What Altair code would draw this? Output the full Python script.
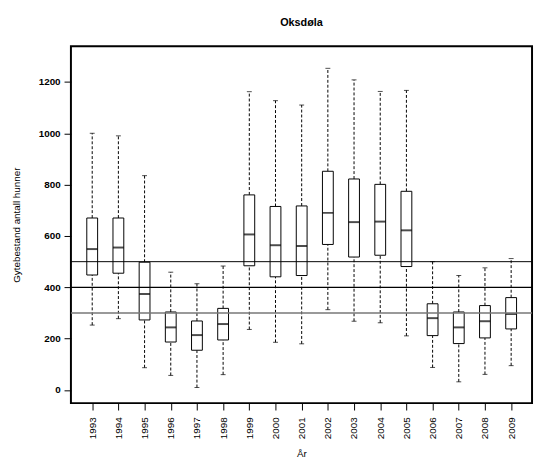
import altair as alt
import pandas as pd

years = list(range(1993, 2010))
whisker_low = [253, 278, 87, 57, 10, 60, 236, 186, 180, 313, 268, 262, 211, 88, 32, 61, 95]
q1 = [448, 455, 273, 187, 155, 195, 484, 441, 446, 567, 518, 525, 481, 212, 181, 203, 238]
median = [549, 555, 374, 244, 214, 257, 606, 564, 561, 690, 654, 656, 622, 280, 244, 268, 296]
q3 = [670, 670, 498, 304, 269, 318, 760, 715, 717, 852, 822, 801, 774, 336, 304, 329, 360]
whisker_high = [1000, 990, 835, 459, 414, 483, 1162, 1127, 1110, 1253, 1208, 1163, 1167, 500, 446, 476, 512]
ref_levels = [500, 400, 300]

df = pd.DataFrame({
    "year": years, "lo": whisker_low, "q1": q1, "med": median, "q3": q3, "hi": whisker_high,
})
ref = pd.DataFrame({"level": ref_levels, "kind": ["a", "b", "c"]})

FONT = "Liberation Sans"
xscale = alt.Scale(domain=[1992.375, 2009.61], nice=False, zero=False)
yscale = alt.Scale(domain=[-51, 1339], nice=False, zero=False)

xaxis = alt.Axis(values=years, format="d", labelAngle=270, labelAlign="right",
                 labelBaseline="middle", labelFontSize=10, labelFont=FONT,
                 labelColor="black", tickColor="black", tickSize=7, tickWidth=1,
                 labelPadding=7, domain=False, grid=False, title="År",
                 titleFont=FONT, titleFontSize=10, titleFontWeight="normal",
                 titleColor="black", titlePadding=10, labelOverlap=False)
yaxis = alt.Axis(values=[0, 200, 400, 600, 800, 1000, 1200], format="d", labelFontSize=10,
                 labelFontWeight="bold", labelFont=FONT, labelColor="black",
                 tickColor="black", tickSize=7, tickWidth=1, labelPadding=4,
                 domain=False, grid=False, title="Gytebestand antall hunner",
                 titleFont=FONT, titleFontSize=10, titleFontWeight="normal",
                 titleColor="black", titlePadding=17)

base = alt.Chart(df)
x = alt.X("year:Q", scale=xscale, axis=xaxis)

whisk_up = base.mark_rule(color="black", strokeWidth=1, strokeDash=[3, 2]).encode(
    x=x, y=alt.Y("q3:Q", scale=yscale, axis=yaxis), y2="hi:Q")
whisk_dn = base.mark_rule(color="black", strokeWidth=1, strokeDash=[3, 2]).encode(
    x=x, y=alt.Y("lo:Q", scale=yscale), y2="q1:Q")
cap_hi = base.mark_tick(color="black", orient="horizontal", size=5, thickness=1).encode(
    x=x, y=alt.Y("hi:Q", scale=yscale))
cap_lo = base.mark_tick(color="black", orient="horizontal", size=5, thickness=1).encode(
    x=x, y=alt.Y("lo:Q", scale=yscale))
box = base.mark_bar(size=11, fill="white", stroke="black", strokeWidth=1).encode(
    x=x, y=alt.Y("q1:Q", scale=yscale), y2="q3:Q")
med = base.mark_tick(color="black", orient="horizontal", size=11, thickness=2).encode(
    x=x, y=alt.Y("med:Q", scale=yscale))
lines = alt.Chart(ref).mark_rule().encode(
    y=alt.Y("level:Q", scale=yscale),
    color=alt.Color("kind:N", scale=alt.Scale(domain=["a", "b", "c"],
                                              range=["#000000", "#000000", "#777777"]), legend=None),
    strokeWidth=alt.StrokeWidth("kind:N", scale=alt.Scale(domain=["a", "b", "c"],
                                                          range=[1, 1.4, 1.4]), legend=None),
)

chart = alt.layer(whisk_up, whisk_dn, cap_hi, cap_lo, box, med, lines).properties(
    width=469, height=363,
    background="white",
    title=alt.Title("Oksdøla", font=FONT, fontSize=11, fontWeight="bold", color="black",
                    anchor="middle", offset=19),
    autosize=alt.AutoSizeParams(type="none"),
    padding={"left": 64, "top": 35, "right": 2, "bottom": 57},
).configure_view(stroke="black", strokeWidth=2)

chart.save("out.html", embed_options={"renderer": "svg", "actions": False})
